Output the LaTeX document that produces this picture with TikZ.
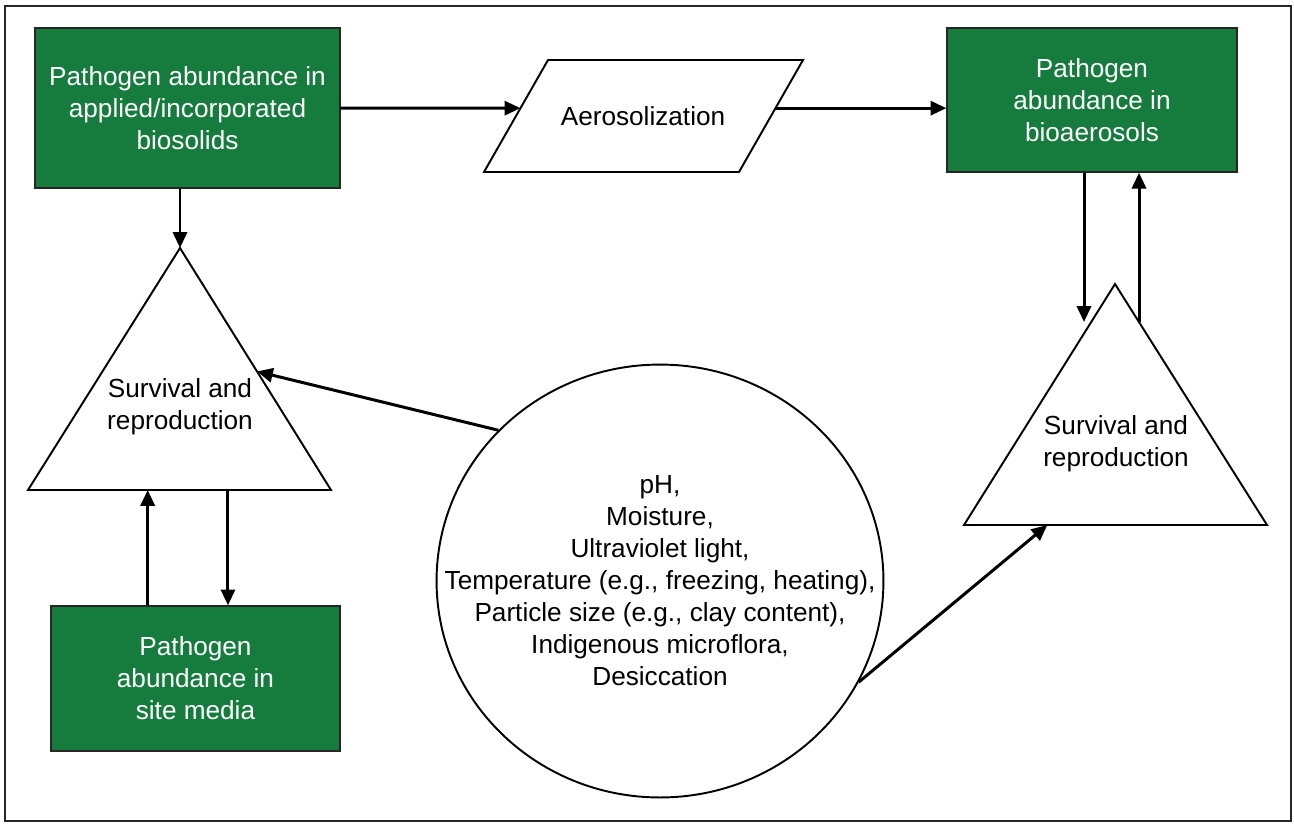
\documentclass[tikz,border=0pt]{standalone}
\usepackage{fontspec}
\setmainfont{Liberation Sans}
\usetikzlibrary{shapes,arrows.meta,calc}

\definecolor{pgreen}{RGB}{22,124,62}
\tikzset{
  box/.style={draw=black!85,line width=0.8pt,fill=pgreen,text=white,align=center,inner sep=0pt},
  arr/.style={line width=1.7pt,-{Triangle[length=9pt,width=8pt]}},
  shp/.style={draw,line width=1.1pt},
  txt/.style={align=center}
}

\begin{document}
\begin{tikzpicture}[x=0.02cm,y=-0.02cm,font=\fontsize{14.9}{18.2}\selectfont]
\useasboundingbox (0,0) rectangle (1294,823);
\draw[line width=0.8pt,black!85] (5,6) rectangle (1291,821);

%Pathogen boxes
\node (bios) at (187.5,108) [box,minimum width=6.1cm,minimum height=3.2cm] {Pathogen abundance in\\applied/incorporated\\biosolids};
\node (bioa) at (1092,100) [box,minimum width=5.8cm,minimum height=2.88cm] {Pathogen\\abundance in\\bioaerosols};
\node (site) at (195.5,678.5) [box,minimum width=5.78cm,minimum height=2.9cm] {Pathogen\\abundance in\\site media};

%Aerosolization
\coordinate (a1) at (484,172);
\coordinate (a2) at (548,60);
\coordinate (a3) at (803,60);
\coordinate (a4) at (739,172);
\draw[shp] (a1) -- (a2) -- (a3) -- (a4) -- cycle;
\node (aero) at (643,116) [txt] {Aerosolization};
\coordinate (ain) at ($(a1)!0.57!(a2)$);
\coordinate (aout) at ($(a4)!0.57!(a3)$);

%Survival, left
\coordinate (lA) at (180,248);
\coordinate (lL) at (28,490);
\coordinate (lR) at (331,490);
\draw[shp] (lA) -- (lL) -- (lR) -- cycle;
\node (lsur) at (180,407) [txt] {Survival and\\reproduction};

%Survival, right
\coordinate (rA) at (1115,284);
\coordinate (rL) at (964,525);
\coordinate (rR) at (1267,525);
\draw[shp] (rA) -- (rL) -- (rR) -- cycle;
\node (rsur) at (1116,444) [txt] {Survival and\\reproduction};

%Factors
\node (fac) at (660,581) [shp,ellipse,minimum width=8.94cm,minimum height=8.66cm,inner sep=0pt] {};
\node (factxt) at (fac.center) [txt] {pH,\\Moisture,\\Ultraviolet light,\\Temperature (e.g., freezing, heating),\\Particle size (e.g., clay content),\\Indigenous microflora,\\Desiccation};

%Arrow ends
\coordinate (lin) at ($(lA)!0.51!(lR)$);
\coordinate (lout) at ($(lL)!0.66!(lR)$);
\coordinate (lup) at ($(lL)!0.395!(lR)$);
\coordinate (rdn) at (1084,322);
\coordinate (rup) at ($(rA)!0.158!(rR)$);
\coordinate (rin) at ($(rL)!0.275!(rR)$);

\draw[arr] (bios) -- (ain);
\draw[arr] (aout) -- (aout -| bioa.west);
\draw[arr] (bios.south -| lA) -- (lA);
\draw[arr] (bioa.south -| rdn) -- (rdn);
\draw[arr] (rup) -- (rup |- bioa.south);
\draw[arr] (fac.137) -- (lin);
\draw[arr] (fac.-27) -- (rin);
\draw[arr] (lout) -- (lout |- site.north);
\draw[arr] (site.north -| lup) -- (lup);

\end{tikzpicture}
\end{document}
